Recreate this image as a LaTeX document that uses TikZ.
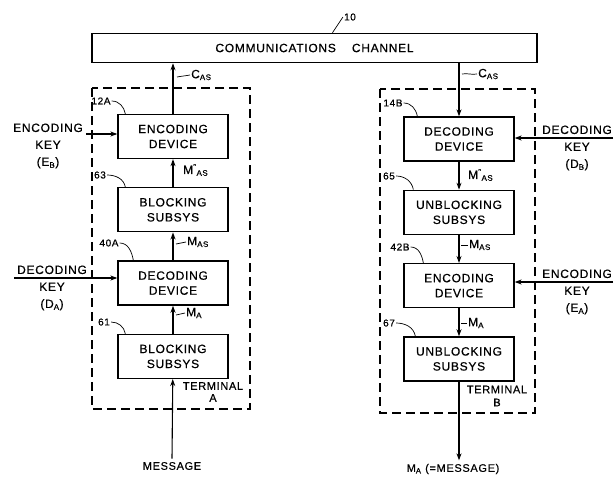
\documentclass[tikz,border=0pt]{standalone}
\usepackage{fontspec}
\newfontfamily\patfont[LetterSpace=6,FakeBold=0.6]{Liberation Sans}
\usetikzlibrary{arrows.meta,positioning,calc}

\begin{document}
\begin{tikzpicture}[x=1pt,y=-1pt,
  font=\patfont\fontsize{12}{15}\selectfont,
  node distance=28pt,
  block/.style={draw,line width=1.3pt,minimum width=110pt,minimum height=44pt,inner sep=0pt,align=center},
  arrow/.style={-{Stealth[length=7pt,width=5pt]},line width=1.1pt},
  term/.style={line width=1.3pt,dash pattern=on 9pt off 5pt},
  refnum/.style={font=\patfont\fontsize{10}{11}\selectfont,inner sep=1pt},
  lbl/.style={font=\patfont\fontsize{12}{12}\selectfont,inner sep=1pt,anchor=west},
  keytext/.style={font=\patfont\fontsize{12}{17}\selectfont,align=center,inner sep=0pt},
  lead/.style={line width=0.7pt}
]
\useasboundingbox (0,0) rectangle (615,476);

% channel
\node[draw,line width=1.6pt,minimum width=445pt,minimum height=29pt,inner sep=0pt] (chan) at (314.5,48) {COMMUNICATIONS\quad\ CHANNEL};
\node[refnum] (r10) at (350,17) {10};
\draw[lead] (r10.west) -- ($(chan.north)+(18,0)$);

% terminal A
\draw[term] (92,88) rectangle (250,409);
\node[block] (encA) at (173,136.5) {ENCODING\\DEVICE};
\node[block, below=of encA] (blkA2) {BLOCKING\\SUBSYS};
\node[block, below=of blkA2] (decA) {DECODING\\DEVICE};
\node[block, below=of decA] (blkA1) {BLOCKING\\SUBSYS};
\node[refnum,align=center,font=\patfont\fontsize{11}{12}\selectfont] (termA) at (213,392) {TERMINAL\\A};

% terminal B
\draw[term] (380,89) rectangle (535,413);
\node[block] (decB) at (459,139) {DECODING\\DEVICE};
\node[block, below=of decB] (unbB1) {UNBLOCKING\\SUBSYS};
\node[block, below=of unbB1] (encB) {ENCODING\\DEVICE};
\node[block, below=of encB] (unbB2) {UNBLOCKING\\SUBSYS};
\node[refnum,align=center,font=\patfont\fontsize{11}{13}\selectfont] (termB) at (497,396) {TERMINAL\\B};

% reference numerals
\node[refnum] (r12A) at (101,101) {12A};
\node[refnum] (r63) at (100,175) {63};
\node[refnum] (r40A) at (109,243) {40A};
\node[refnum] (r61) at (104,322) {61};
\node[refnum] (r14B) at (393,103) {14B};
\node[refnum] (r65) at (389,176) {65};
\node[refnum] (r42B) at (400,247) {42B};
\node[refnum] (r67) at (389,323) {67};
\draw[lead] (r12A.east) to[out=0,in=100] ($(encA.north west)+(8,0)$);
\draw[lead] (r63.east) to[out=0,in=100] ($(blkA2.north west)+(8,0)$);
\draw[lead] (r40A.east) to[out=0,in=100] ($(decA.north west)+(16,0)$);
\draw[lead] (r61.east) to[out=0,in=100] ($(blkA1.north west)+(8,0)$);
\draw[lead] (r14B.east) to[out=0,in=100] ($(decB.north west)+(14,0)$);
\draw[lead] (r65.east) to[out=0,in=100] ($(unbB1.north west)+(10,0)$);
\draw[lead] (r42B.east) to[out=0,in=100] ($(encB.north west)+(20,0)$);
\draw[lead] (r67.east) to[out=0,in=100] ($(unbB2.north west)+(12,0)$);

% message path A
\node[font=\patfont\fontsize{11}{12}\selectfont] (msg) at (172,466) {MESSAGE};
\draw[arrow] (msg.north) -- (blkA1);
\draw[arrow] (blkA1) -- (decA);
\draw[arrow] (decA) -- (blkA2);
\draw[arrow] (blkA2) -- (encA);
\draw[arrow] (encA) -- (encA |- chan.south);

% message path B
\node[font=\patfont\fontsize{11}{12}\selectfont] (out) at (453,469) {M\textsubscript{A} (=MESSAGE)};
\draw[arrow] (decB |- chan.south) -- (decB);
\draw[arrow] (decB) -- (unbB1);
\draw[arrow] (unbB1) -- (encB);
\draw[arrow] (encB) -- (unbB2);
\draw[arrow] (unbB2) -- (unbB2 |- out.north);

% signal labels
\node[lbl] (sCA) at (190,75) {C\textsubscript{AS}};
\node[lbl] (sM2A) at (182,170) {M\textsuperscript{"}\textsubscript{AS}};
\node[lbl] (sMsA) at (186,242) {M\textsubscript{AS}};
\node[lbl] (sMA) at (185,313) {M\textsubscript{A}};
\node[lbl] (sCB) at (477,74) {C\textsubscript{AS}};
\node[lbl] (sM2B) at (467,175) {M\textsuperscript{"}\textsubscript{AS}};
\node[lbl] (sMsB) at (468,245) {M\textsubscript{AS}};
\node[lbl] (sMB) at (467,323) {M\textsubscript{A}};
\draw[lead] (sCA.west) to[out=190,in=10] ++(-13,2);
\draw[lead] (sMsA.west) to[out=190,in=10] ++(-10,2);
\draw[lead] (sMA.west) to[out=190,in=10] ++(-9,2);
\draw[lead] (sCB.west) to[out=190,in=10] ++(-15,0);
\draw[lead] (sMsB.west) to[out=190,in=10] ++(-7,0);
\draw[lead] (sMB.west) to[out=190,in=10] ++(-6,0);

% keys
\node[keytext] (keyEB) at (48,146) {ENCODING\\KEY\\(E\textsubscript{B})};
\node[keytext] (keyDA) at (52,288) {DECODING\\KEY\\(D\textsubscript{A})};
\node[keytext] (keyDB) at (577,148) {DECODING\\KEY\\(D\textsubscript{B})};
\node[keytext] (keyEA) at (577,292) {ENCODING\\KEY\\(E\textsubscript{A})};
\coordinate (kEB) at (86,134);
\coordinate (kDA) at (14,278);
\coordinate (kDB) at (613,138);
\coordinate (kEA) at (613,282);
\draw[arrow] (kEB) -- (kEB -| encA.west);
\draw[arrow] (kDA) -- (kDA -| decA.west);
\draw[arrow] (kDB) -- (kDB -| decB.east);
\draw[arrow] (kEA) -- (kEA -| encB.east);
\end{tikzpicture}
\end{document}
